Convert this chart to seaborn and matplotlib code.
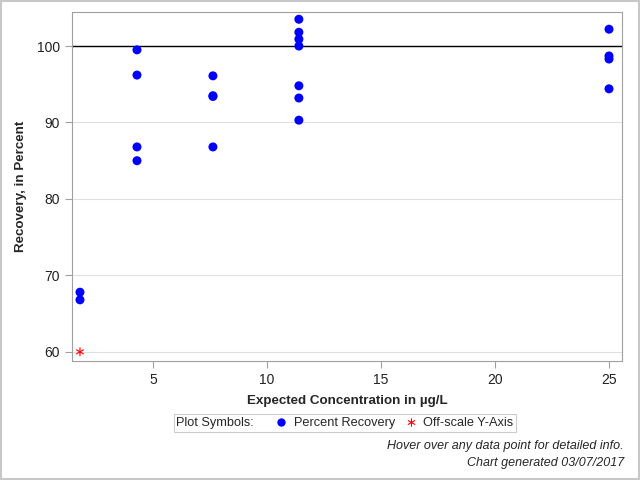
import pandas as pd
import matplotlib.pyplot as plt
import seaborn as sns
from matplotlib.lines import Line2D
from matplotlib.patches import Rectangle
from matplotlib.offsetbox import HPacker

# Valores
conc = [1.8, 1.8,
        4.3, 4.3, 4.3, 4.3,
        7.63, 7.63, 7.63, 7.63,
        11.4, 11.4, 11.4, 11.4, 11.4, 11.4, 11.4,
        25.0, 25.0, 25.0, 25.0]
recovery = [67.8, 66.8,
            99.5, 96.2, 86.8, 85.0,
            96.1, 93.5, 93.4, 86.8,
            103.5, 101.8, 100.9, 100.0, 94.8, 93.2, 90.3,
            102.2, 98.7, 98.3, 94.4]
off_conc = [1.8]
off_recovery = [60.0]

df = pd.DataFrame({"conc": conc, "recovery": recovery})
df_off = pd.DataFrame({"conc": off_conc, "recovery": off_recovery})

sns.set_style("white")
plt.rcParams['font.family'] = ['Liberation Sans', 'DejaVu Sans']

fig = plt.figure(figsize=(6.4, 4.8), dpi=100)
ax = fig.add_axes([72 / 640, 1 - 361 / 480, 550 / 640, 349 / 480])

ax.axhline(100, color="black", linewidth=1, zorder=1)
sns.scatterplot(data=df, x="conc", y="recovery", ax=ax, color="#0000ff",
                s=42, edgecolor="none", zorder=3)
sns.scatterplot(data=df_off, x="conc", y="recovery", ax=ax, color="red",
                marker="$\\ast$", s=40, edgecolor="none", zorder=3)

ax.set_xlim(1.45, 25.57)
ax.set_ylim(58.8, 104.45)
ax.set_xticks([5, 10, 15, 20, 25])
ax.set_yticks([60, 70, 80, 90, 100])
ax.grid(axis="y", color="#e0e0e0", linewidth=0.8)
ax.set_axisbelow(True)
for sp in ax.spines.values():
    sp.set_color("#a0a0a0")
    sp.set_linewidth(0.8)
ax.tick_params(axis="both", direction="out", length=5, width=0.8,
               color="#a0a0a0", labelsize=10, labelcolor="#222222",
               bottom=True, left=True)
ax.set_xlabel("Expected Concentration in µg/L", fontsize=9.6, weight="bold", labelpad=6)
ax.set_ylabel("Recovery, in Percent", fontsize=9.6, weight="bold", labelpad=7)

# Legenda personalizada, título ao lado das entradas
handles = [Line2D([], [], linestyle="none", marker="o", color="#0000ff",
                  markersize=6, markeredgewidth=0),
           Line2D([], [], linestyle="none", marker="$\\ast$", color="red",
                  markersize=6, markeredgewidth=0)]
leg = fig.legend(handles, ["Percent Recovery", "Off-scale Y-Axis"],
                 title="Plot Symbols:", ncol=2, loc="center",
                 bbox_to_anchor=(345 / 640, 1 - 423 / 480), fontsize=9.2,
                 title_fontsize=9.2, frameon=True, fancybox=False,
                 handlelength=1.2, handletextpad=0.4, columnspacing=0.6,
                 borderpad=0.1, edgecolor="#c0c0c0")
title_box, entries = leg._legend_box.get_children()
leg._legend_box = HPacker(children=[title_box, entries], pad=0.15 * 9 * 100 / 72,
                          sep=14, align="center")
leg._legend_box.set_figure(fig)
leg._legend_box.set_offset(leg._findoffset)
leg.get_frame().set_linewidth(0.8)

fig.text(624 / 640, 1 - 446 / 480, "Hover over any data point for detailed info.",
         ha="right", va="center", fontsize=9, style="italic")
fig.text(624 / 640, 1 - 463 / 480, "Chart generated 03/07/2017",
         ha="right", va="center", fontsize=9, style="italic")

fig.patches.append(Rectangle((0.0015, 0.002), 0.997, 0.996, transform=fig.transFigure,
                             fill=False, edgecolor="#c8c8c8", linewidth=1.5))

fig.savefig("out.png", dpi=100)
